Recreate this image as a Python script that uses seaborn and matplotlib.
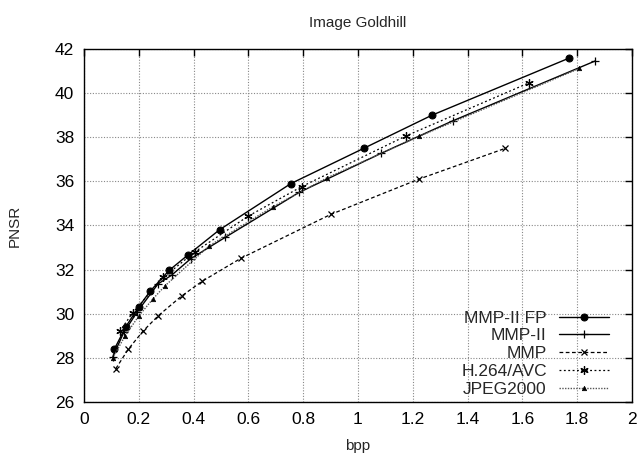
import matplotlib
matplotlib.use("Agg")
import matplotlib.pyplot as plt
import seaborn as sns
import pandas as pd

sns.set_theme(style="white")
plt.rcParams['font.family'] = ['Liberation Sans', 'DejaVu Sans']

title = "Image Goldhill"
xlabel = "bpp"
ylabel = "PNSR"

fp_x = [0.111, 0.152, 0.200, 0.242, 0.311, 0.381, 0.495, 0.755, 1.023, 1.270, 1.771]
fp_y = [28.40, 29.40, 30.32, 31.03, 31.97, 32.68, 33.81, 35.90, 37.51, 39.00, 41.59]

m2_x = [0.105, 0.145, 0.195, 0.270, 0.320, 0.390, 0.515, 0.785, 1.084, 1.345, 1.866]
m2_y = [28.05, 29.15, 30.10, 31.35, 31.75, 32.50, 33.46, 35.50, 37.27, 38.74, 41.46]

mmp_x = [0.116, 0.162, 0.216, 0.271, 0.356, 0.431, 0.572, 0.900, 1.224, 1.538]
mmp_y = [27.51, 28.40, 29.22, 29.91, 30.80, 31.47, 32.51, 34.50, 36.11, 37.50]

h264_x = [0.130, 0.178, 0.290, 0.404, 0.600, 0.794, 1.175, 1.623]
h264_y = [29.20, 30.05, 31.65, 32.80, 34.43, 35.76, 38.06, 40.46]

j2k_x = [0.105, 0.150, 0.200, 0.250, 0.296, 0.456, 0.689, 0.888, 1.223, 1.808]
j2k_y = [28.00, 29.00, 29.90, 30.65, 31.27, 33.07, 34.85, 36.17, 38.04, 41.12]

series = [
    ("MMP-II FP", fp_x, fp_y, dict(color="black", linestyle="-", marker="o", markersize=5,
                                   markeredgecolor="black", markerfacecolor="black", lw=1.0)),
    ("MMP-II", m2_x, m2_y, dict(color="black", linestyle="-", marker="+", markersize=6,
                                markeredgecolor="black", mew=0.9, lw=1.0)),
    ("MMP", mmp_x, mmp_y, dict(color="black", linestyle=(0, (3, 2)), marker="x", markersize=5,
                               markeredgecolor="black", mew=0.9, lw=0.9)),
    ("H.264/AVC", h264_x, h264_y, dict(color="black", linestyle=(0, (1.5, 2)), marker=(6, 2, 0),
                                       markersize=6, markeredgecolor="black", mew=0.9, lw=0.9)),
    ("JPEG2000", j2k_x, j2k_y, dict(color="#555555", linestyle=(0, (1, 1)), marker="^", markersize=3.2,
                                    markerfacecolor="black", markeredgecolor="black", mew=0.5, lw=1.0)),
]

fig = plt.figure(figsize=(6.4, 4.55), dpi=100)
ax = fig.add_axes([0.13125, 0.1165, 0.85625, 0.7758])

for name, xs, ys, st in series:
    df = pd.DataFrame({"x": xs, "y": ys})
    sns.lineplot(data=df, x="x", y="y", ax=ax, sort=False, estimator=None,
                 label=name, **st)

ax.set_xlim(0, 2)
ax.set_ylim(26, 42)
ax.set_xticks([0, 0.2, 0.4, 0.6, 0.8, 1.0, 1.2, 1.4, 1.6, 1.8, 2.0])
ax.set_xticklabels(["0", "0.2", "0.4", "0.6", "0.8", "1", "1.2", "1.4", "1.6", "1.8", "2"])
ax.set_yticks(range(26, 43, 2))
ax.tick_params(direction="in", top=True, right=True, length=5, width=1,
               labelsize=12.5, colors="black", pad=7)
ax.grid(True, color="#888888", linestyle=(0, (1, 1.5)), linewidth=0.8)
for sp in ax.spines.values():
    sp.set_color("black")
    sp.set_linewidth(1.0)

ax.set_xlabel(xlabel, fontsize=11, labelpad=9)
ax.set_ylabel(ylabel, fontsize=11, labelpad=24)
ax.set_title(title, fontsize=11, pad=16)

leg = ax.legend(loc="lower right", bbox_to_anchor=(0.965, 0.005), frameon=False,
                markerfirst=False, fontsize=12.5, handlelength=2.9,
                labelspacing=0.15, handletextpad=0.7, borderaxespad=0, borderpad=0.2)
leg._legend_box.align = "right"

fig.savefig("out.png", dpi=100, facecolor="white")
